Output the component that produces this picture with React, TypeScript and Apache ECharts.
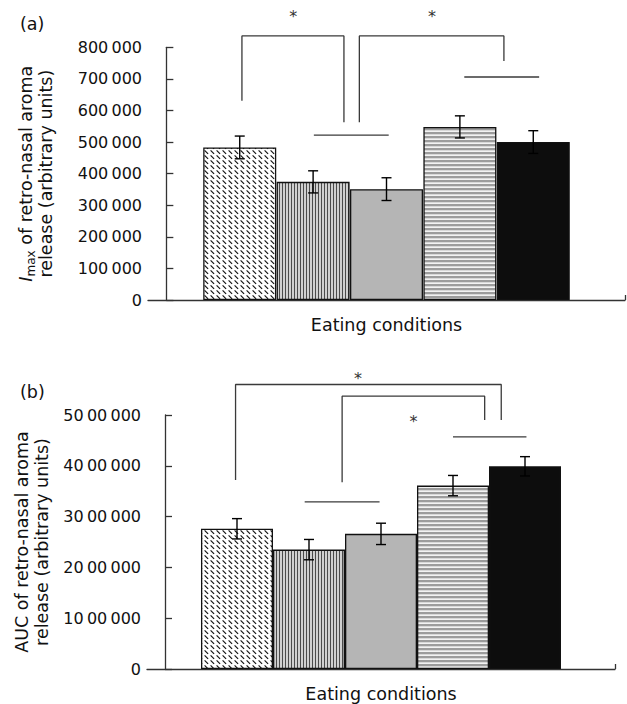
import React, { useEffect, useRef } from "react";
import * as echarts from "echarts";

// ---- data ----
const barPositions = [1, 2, 3, 4, 5];
const imaxMeans = [483000, 374000, 351000, 548000, 500000];
const imaxErr = [36000, 35000, 36000, 35000, 36000];
const aucMeans = [27600000, 23500000, 26600000, 36100000, 39900000];
const aucErr = [2000000, 2000000, 2100000, 2000000, 1900000];

const imaxTickLabels = ["0", "100\u2009000", "200\u2009000", "300\u2009000", "400\u2009000", "500\u2009000", "600\u2009000", "700\u2009000", "800\u2009000"];
const aucTickLabels = ["0", "10\u200900\u2009000", "20\u200900\u2009000", "30\u200900\u2009000", "40\u200900\u2009000", "50\u200900\u2009000"];

// significance brackets (data coordinates)
const imaxBrackets = [
  [[1.03, 631000], [1.03, 836000], [2.42, 836000], [2.42, 563000]],
  [[2.63, 563000], [2.63, 836000], [4.6, 836000], [4.6, 757000]],
  [[2.01, 522000], [3.03, 522000]],
  [[4.06, 706000], [5.08, 706000]],
];
const imaxStars = [[1.73, 897000], [3.62, 897000]];
const aucBrackets = [
  [[0.98, 37200000], [0.98, 56000000], [4.67, 56000000], [4.67, 49000000]],
  [[2.46, 36750000], [2.46, 53700000], [4.44, 53700000], [4.44, 49000000]],
  [[1.94, 32900000], [2.98, 32900000]],
  [[4.0, 45700000], [5.02, 45700000]],
];
const aucStars = [[2.68, 57200000], [3.45, 48660000]];

const FONT = "DejaVu Sans";
const TXT = "#111";
const LINE = "#333";

function makePattern(kind: number): any {
  const c = document.createElement("canvas");
  const ctx = c.getContext("2d") as CanvasRenderingContext2D;
  if (kind === 0) {
    c.width = 6; c.height = 5;
    ctx.fillStyle = "#fff"; ctx.fillRect(0, 0, 6, 5);
    ctx.strokeStyle = "#111"; ctx.lineWidth = 1.1;
    ctx.beginPath(); ctx.moveTo(0.6, 0.4); ctx.lineTo(4.1, 3.9); ctx.stroke();
  } else if (kind === 1) {
    c.width = 3; c.height = 3;
    ctx.fillStyle = "#cfcfcf"; ctx.fillRect(0, 0, 3, 3);
    ctx.fillStyle = "#4a4a4a"; ctx.fillRect(0, 0, 1, 3);
  } else {
    c.width = 4; c.height = 4;
    ctx.fillStyle = "#f2f2f2"; ctx.fillRect(0, 0, 4, 4);
    ctx.fillStyle = "#9c9c9c"; ctx.fillRect(0, 0, 4, 2.3);
  }
  return { image: c, repeat: "repeat", imageWidth: c.width, imageHeight: c.height };
}

export default function App() {
  const ref = useRef<HTMLDivElement>(null);
  useEffect(() => {
    if (!ref.current) return;
    const chart = echarts.init(ref.current, undefined, { renderer: "svg" });
    const fills = [makePattern(0), makePattern(1), "#b5b5b5", makePattern(2), "#0d0d0d"];

    const yName = (first: string) => ({
      name: first + "\nrelease (arbitrary units)",
      nameLocation: "middle",
      nameGap: 92,
      nameRotate: 90,
      nameTextStyle: {
        fontFamily: FONT, fontSize: 17.5, color: TXT, lineHeight: 20, align: "center",
        rich: {
          i: { fontFamily: FONT, fontSize: 17.5, fontStyle: "italic", color: TXT, lineHeight: 20 },
          s: { fontFamily: FONT, fontSize: 12, color: TXT, lineHeight: 20, padding: [9, 0, 0, 0] },
        },
      },
    });

    const xAxisCommon = (gi: number) => ({
      type: "value", gridIndex: gi, min: -0.25, max: 6.25,
      name: "Eating conditions", nameLocation: "middle", nameGap: 16,
      nameTextStyle: { fontFamily: FONT, fontSize: 17.5, color: TXT, verticalAlign: "top" },
      axisLine: { show: true, lineStyle: { color: LINE, width: 1.3 } },
      axisTick: { show: true, inside: true, length: 5, customValues: [6.25], lineStyle: { color: LINE, width: 1.3 } },
      axisLabel: { show: false },
      splitLine: { show: false },
    });

    const yAxisCommon = (gi: number, max: number, interval: number, labels: string[]) => ({
      type: "value", gridIndex: gi, min: 0, max, interval,
      axisLine: { show: true, lineStyle: { color: LINE, width: 1.3 } },
      axisTick: { show: true, inside: true, length: 7, lineStyle: { color: LINE, width: 1.3 } },
      axisLabel: {
        fontFamily: FONT, fontSize: 16, color: TXT, margin: 6,
        formatter: (v: number) => labels[Math.round(v / interval)] ?? "",
      },
      splitLine: { show: false },
    });

    const barSeries = (gi: number, means: number[], width: number) => ({
      type: "bar", xAxisIndex: gi, yAxisIndex: gi, barWidth: width, z: 2,
      data: barPositions.map((p, i) => ({
        value: [p, means[i]],
        itemStyle: { color: fills[i], borderColor: "#111", borderWidth: 1.3 },
      })),
    });

    const errSeries = (gi: number, means: number[], errs: number[]) => ({
      type: "custom", xAxisIndex: gi, yAxisIndex: gi, z: 5, clip: false,
      data: barPositions.map((p, i) => [p, means[i] - errs[i], means[i] + errs[i]]),
      renderItem: (_p: any, api: any) => {
        const x = api.value(0);
        const lo = api.coord([x, api.value(1)]);
        const hi = api.coord([x, api.value(2)]);
        const hw = 5;
        const st = { stroke: "#000", lineWidth: 1.4 };
        return {
          type: "group",
          children: [
            { type: "line", shape: { x1: hi[0], y1: hi[1], x2: lo[0], y2: lo[1] }, style: st },
            { type: "line", shape: { x1: hi[0] - hw, y1: hi[1], x2: hi[0] + hw, y2: hi[1] }, style: st },
            { type: "line", shape: { x1: lo[0] - hw, y1: lo[1], x2: lo[0] + hw, y2: lo[1] }, style: st },
          ],
        };
      },
    });

    const bracketSeries = (gi: number, brackets: number[][][]) =>
      brackets.map((b) => ({
        type: "line", xAxisIndex: gi, yAxisIndex: gi, data: b, clip: false, symbol: "none",
        silent: true, z: 4, lineStyle: { color: "#3a3a3a", width: 1.3 },
      }));

    const starSeries = (gi: number, stars: number[][]) => ({
      type: "custom", xAxisIndex: gi, yAxisIndex: gi, data: stars, clip: false, silent: true, z: 6,
      renderItem: (_p: any, api: any) => {
        const pt = api.coord([api.value(0), api.value(1)]);
        return {
          type: "text", x: pt[0], y: pt[1],
          style: { text: "*", font: `16px "${FONT}"`, fill: "#333", align: "center", verticalAlign: "middle" },
        };
      },
    });

    chart.setOption({
      animation: false,
      backgroundColor: "#fff",
      grid: [
        { left: 148, right: 2, top: 47.3, height: 252.7 },
        { left: 147, right: 12, top: 415, height: 254 },
      ],
      xAxis: [xAxisCommon(0), xAxisCommon(1)],
      yAxis: [
        { ...yAxisCommon(0, 800000, 100000, imaxTickLabels), ...yName("{i|I}{s|max} of retro-nasal aroma") },
        { ...yAxisCommon(1, 5000000 * 10, 10000000, aucTickLabels), ...yName("AUC of retro-nasal aroma") },
      ],
      graphic: [
        { type: "text", left: 20, top: 15, style: { text: "(a)", font: `17.5px "${FONT}"`, fill: TXT } },
        { type: "text", left: 20, top: 383, style: { text: "(b)", font: `17.5px "${FONT}"`, fill: TXT } },
      ],
      series: [
        barSeries(0, imaxMeans, 73),
        errSeries(0, imaxMeans, imaxErr),
        ...bracketSeries(0, imaxBrackets),
        starSeries(0, imaxStars),
        barSeries(1, aucMeans, 72),
        errSeries(1, aucMeans, aucErr),
        ...bracketSeries(1, aucBrackets),
        starSeries(1, aucStars),
      ],
    });
    return () => chart.dispose();
  }, []);
  return <div ref={ref} style={{ position: "fixed", left: 0, top: 0, width: 627, height: 704 }} />;
}
